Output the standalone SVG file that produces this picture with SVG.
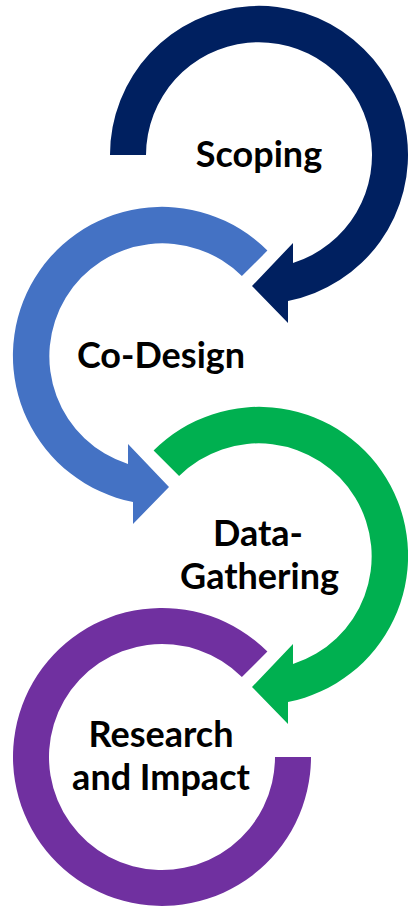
<svg xmlns="http://www.w3.org/2000/svg" width="408" height="907" viewBox="0 0 408 907">
<style>
.lbl{font-family:Lato,"Open Sans","Liberation Sans",sans-serif;font-weight:bold;font-size:36px;fill:#000;text-anchor:middle}
</style>
<rect width="408" height="907" fill="#fff"/>
<g id="connectors">
<path id="arrow-scoping" fill="#002060" d="M 146,155 L 110,155 A 149 149 0 1 1 288,301 L 288,323 L 252,286 L 293,243 L 293,263 A 113 113 0 1 0 146,155 Z"/>
<path id="arrow-codesign" fill="#4472C4" d="M 241.9,276.1 L 267.4,250.6 A 149 149 0 1 0 133,502 L 133,524 L 169,487 L 128,444 L 128,464 A 113 113 0 1 1 241.9,276.1 Z"/>
<path id="arrow-data" fill="#00B050" d="M 179.1,476.1 L 153.6,450.6 A 149 149 0 1 1 288,702 L 288,724 L 252,687 L 293,644 L 293,664 A 113 113 0 1 0 179.1,476.1 Z"/>
<path id="ring-research" fill="#7030A0" d="M 241.9,677.1 L 267.4,651.6 A 149 149 0 1 0 311,757 L 275,757 A 113 113 0 1 1 241.9,677.1 Z"/>
</g>
<g id="node-scoping"><text class="lbl" x="259" y="167">Scoping</text></g>
<g id="node-codesign"><text class="lbl" x="161" y="368">Co-Design</text></g>
<g id="node-data"><text class="lbl" x="258" y="546">Data-</text><text class="lbl" x="259.5" y="589">Gathering</text></g>
<g id="node-research"><text class="lbl" x="161" y="747">Research</text><text class="lbl" x="161" y="790">and Impact</text></g>
</svg>
